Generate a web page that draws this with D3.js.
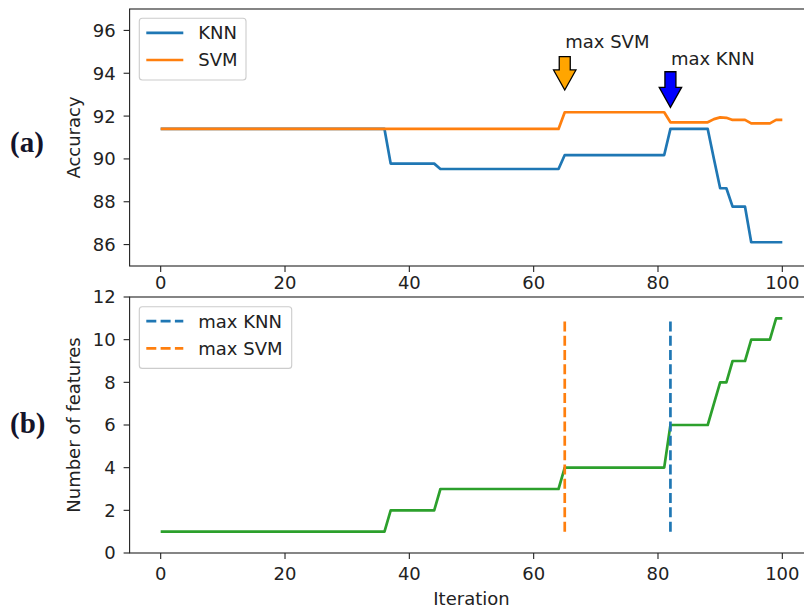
<!DOCTYPE html>
<html>
<head>
<meta charset="utf-8">
<script src="https://cdn.jsdelivr.net/npm/d3@7"></script>
<style>
  html, body { margin: 0; padding: 0; background: #fff; }
  svg { display: block; }
  text { font-family: "DejaVu Sans", sans-serif; fill: #222; }
  text.panel { font-family: "Liberation Serif", "Times New Roman", serif; font-weight: bold; fill: #14142a; }
</style>
</head>
<body>
<svg id="chart" width="804" height="610"></svg>
<script>
// ---------------- DATA ----------------
const iterations = d3.range(0, 101);

const knnAccuracy = [
  91.40,91.40,91.40,91.40,91.40,91.40,91.40,91.40,91.40,91.40,
  91.40,91.40,91.40,91.40,91.40,91.40,91.40,91.40,91.40,91.40,
  91.40,91.40,91.40,91.40,91.40,91.40,91.40,91.40,91.40,91.40,
  91.40,91.40,91.40,91.40,91.40,91.40,91.40,89.78,89.78,89.78,
  89.78,89.78,89.78,89.78,89.78,89.53,89.53,89.53,89.53,89.53,
  89.53,89.53,89.53,89.53,89.53,89.53,89.53,89.53,89.53,89.53,
  89.53,89.53,89.53,89.53,89.53,90.18,90.18,90.18,90.18,90.18,
  90.18,90.18,90.18,90.18,90.18,90.18,90.18,90.18,90.18,90.18,
  90.18,90.18,91.40,91.40,91.40,91.40,91.40,91.40,91.40,90.00,
  88.63,88.63,87.77,87.77,87.77,86.11,86.11,86.11,86.11,86.11,
  86.11
];

const svmAccuracy = [
  91.40,91.40,91.40,91.40,91.40,91.40,91.40,91.40,91.40,91.40,
  91.40,91.40,91.40,91.40,91.40,91.40,91.40,91.40,91.40,91.40,
  91.40,91.40,91.40,91.40,91.40,91.40,91.40,91.40,91.40,91.40,
  91.40,91.40,91.40,91.40,91.40,91.40,91.40,91.40,91.40,91.40,
  91.40,91.40,91.40,91.40,91.40,91.40,91.40,91.40,91.40,91.40,
  91.40,91.40,91.40,91.40,91.40,91.40,91.40,91.40,91.40,91.40,
  91.40,91.40,91.40,91.40,91.40,92.18,92.18,92.18,92.18,92.18,
  92.18,92.18,92.18,92.18,92.18,92.18,92.18,92.18,92.18,92.18,
  92.18,92.18,91.71,91.71,91.71,91.71,91.71,91.71,91.71,91.86,
  91.94,91.92,91.82,91.82,91.82,91.66,91.66,91.66,91.66,91.82,
  91.82
];

const numFeatures = [
  1,1,1,1,1,1,1,1,1,1,
  1,1,1,1,1,1,1,1,1,1,
  1,1,1,1,1,1,1,1,1,1,
  1,1,1,1,1,1,1,2,2,2,
  2,2,2,2,2,3,3,3,3,3,
  3,3,3,3,3,3,3,3,3,3,
  3,3,3,3,3,4,4,4,4,4,
  4,4,4,4,4,4,4,4,4,4,
  4,4,6,6,6,6,6,6,6,7,
  8,8,9,9,9,10,10,10,10,11,
  11
];

const xTicks = [0, 20, 40, 60, 80, 100];
const accTicks = [86, 88, 90, 92, 94, 96];
const featTicks = [0, 2, 4, 6, 8, 10, 12];

const seriesNames = ["KNN", "SVM"];
const vlineNames = ["max KNN", "max SVM"];
const vlineIters = [82, 65];      // max KNN, max SVM
const vlineRange = [1, 11];

// annotations: label, iteration, tail value, tip value, text value
const annLabels = ["max SVM", "max KNN"];
const annIters = [65, 82];
const annTail = [94.78, 94.07];
const annTip = [93.22, 92.41];
const annTextY = [95.18, 94.39];

const panelLabels = ["(a)", "(b)"];

// ---------------- LAYOUT / STYLE ----------------
const C_KNN = "#1f77b4", C_SVM = "#ff7f0e", C_FEAT = "#2ca02c";
const annFill = ["#ffa500", "#0000ff"];
const LW = 2.7, SPINE = 1.1, FS = 18;

const svg = d3.select("#chart");

const x = d3.scaleLinear().domain([-5, 105]).range([129.6, 813.4]);
const yA = d3.scaleLinear().domain([85, 97]).range([266, 9]);
const yB = d3.scaleLinear().domain([0, 12]).range([553, 297]);

function frame(y) {
  const [y0, y1] = y.range();
  svg.append("rect")
    .attr("x", x.range()[0]).attr("y", y1)
    .attr("width", x.range()[1] - x.range()[0]).attr("height", y0 - y1)
    .attr("fill", "none").attr("stroke", "#222").attr("stroke-width", SPINE);
}

function axes(y, yticks, xLabelBaseline) {
  const yBot = y.range()[0];
  const gx = svg.append("g");
  xTicks.forEach(t => {
    gx.append("line").attr("x1", x(t)).attr("x2", x(t))
      .attr("y1", yBot).attr("y2", yBot + 6)
      .attr("stroke", "#222").attr("stroke-width", SPINE);
    gx.append("text").attr("x", x(t)).attr("y", xLabelBaseline)
      .attr("text-anchor", "middle").attr("font-size", FS).text(t);
  });
  const x0 = x.range()[0];
  yticks.forEach(t => {
    gx.append("line").attr("x1", x0 - 6).attr("x2", x0)
      .attr("y1", y(t)).attr("y2", y(t))
      .attr("stroke", "#222").attr("stroke-width", SPINE);
    gx.append("text").attr("x", x0 - 14).attr("y", y(t))
      .attr("dy", "0.36em")
      .attr("text-anchor", "end").attr("font-size", FS).text(t);
  });
}

function legend(x0, y0, w, h, items) {
  const g = svg.append("g");
  g.append("rect").attr("x", x0).attr("y", y0).attr("width", w).attr("height", h)
    .attr("rx", 3).attr("fill", "#fff").attr("fill-opacity", 0.8)
    .attr("stroke", "#cccccc").attr("stroke-width", 1.1);
  items.forEach((it, i) => {
    const yy = y0 + 14.5 + i * 27.2;
    g.append("line").attr("x1", x0 + 7).attr("x2", x0 + 44)
      .attr("y1", yy).attr("y2", yy)
      .attr("stroke", it.color).attr("stroke-width", LW)
      .attr("stroke-dasharray", it.dash || null);
    g.append("text").attr("x", x0 + 59).attr("y", yy).attr("dy", "0.36em")
      .attr("font-size", FS).text(it.name);
  });
}

// ---------- Panel (a) ----------
const lineA = d3.line().x((d, i) => x(iterations[i])).y(d => yA(d));
svg.append("path").datum(knnAccuracy).attr("d", lineA)
  .attr("fill", "none").attr("stroke", C_KNN).attr("stroke-width", LW)
  .attr("stroke-linejoin", "round");
svg.append("path").datum(svmAccuracy).attr("d", lineA)
  .attr("fill", "none").attr("stroke", C_SVM).attr("stroke-width", LW)
  .attr("stroke-linejoin", "round");

frame(yA);
axes(yA, accTicks, 289);

// arrows
annLabels.forEach((lab, i) => {
  const cx = x(annIters[i]);
  const tail = yA(annTail[i]), tip = yA(annTip[i]);
  const headLen = 20, headW = 11.2, shaftW = 5.5;
  const hb = tip - headLen;
  const pts = [
    [cx - shaftW, tail], [cx + shaftW, tail], [cx + shaftW, hb], [cx + headW, hb],
    [cx, tip], [cx - headW, hb], [cx - shaftW, hb]
  ];
  svg.append("path").attr("d", "M" + pts.map(p => p.join(",")).join("L") + "Z")
    .attr("fill", annFill[i]).attr("stroke", "#000").attr("stroke-width", 1.3)
    .attr("stroke-linejoin", "miter");
  svg.append("text").attr("x", cx + 0.5).attr("y", yA(annTextY[i]))
    .attr("font-size", FS).text(lab);
});

legend(139.3, 18.3, 106.7, 61.7, [
  { name: seriesNames[0], color: C_KNN },
  { name: seriesNames[1], color: C_SVM }
]);

svg.append("text").attr("x", 80).attr("y", (yA.range()[0] + yA.range()[1]) / 2)
  .attr("transform", `rotate(-90, 80, ${(yA.range()[0] + yA.range()[1]) / 2})`)
  .attr("text-anchor", "middle").attr("font-size", FS).text("Accuracy");

// ---------- Panel (b) ----------
const lineB = d3.line().x((d, i) => x(iterations[i])).y(d => yB(d));
svg.append("path").datum(numFeatures).attr("d", lineB)
  .attr("fill", "none").attr("stroke", C_FEAT).attr("stroke-width", LW)
  .attr("stroke-linejoin", "round");

const vColors = [C_KNN, C_SVM];
vlineIters.forEach((it, i) => {
  svg.append("line").attr("x1", x(it)).attr("x2", x(it))
    .attr("y1", yB(vlineRange[0])).attr("y2", yB(vlineRange[1]))
    .attr("stroke", vColors[i]).attr("stroke-width", LW)
    .attr("stroke-dasharray", "10,4.3");
});

frame(yB);
axes(yB, featTicks, 580);

legend(139.3, 306.7, 152.4, 61.7, [
  { name: vlineNames[0], color: C_KNN, dash: "10,4.3" },
  { name: vlineNames[1], color: C_SVM, dash: "10,4.3" }
]);

svg.append("text").attr("x", 80).attr("y", (yB.range()[0] + yB.range()[1]) / 2)
  .attr("transform", `rotate(-90, 80, ${(yB.range()[0] + yB.range()[1]) / 2})`)
  .attr("text-anchor", "middle").attr("font-size", FS).text("Number of features");

svg.append("text").attr("x", x.range()[0] + (x.range()[1] - x.range()[0]) / 2)
  .attr("y", 605).attr("text-anchor", "middle").attr("font-size", FS).text("Iteration");

// panel labels
[[panelLabels[0], 152], [panelLabels[1], 433]].forEach(([t, by]) => {
  svg.append("text").attr("class", "panel").attr("x", 10).attr("y", by)
    .attr("font-size", 29).text(t);
});
</script>
</body>
</html>
